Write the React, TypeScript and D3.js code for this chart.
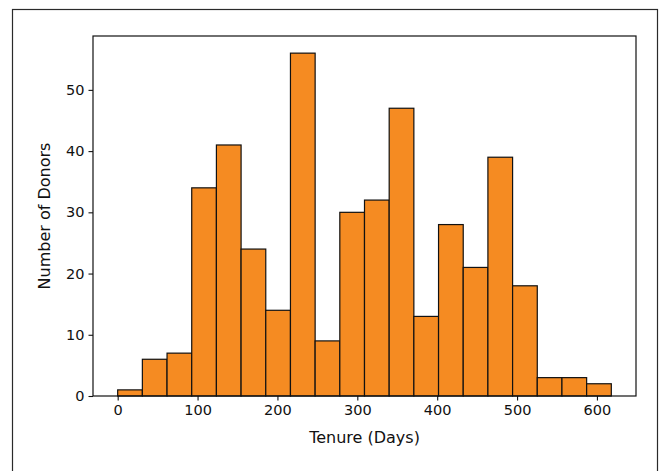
import React, { useEffect, useRef } from 'react'
import * as d3 from 'd3'

// histogram of donor tenure, 20 bins from 0 to ~618 days
const binStart = 0
const binEnd = 618
const counts = [1, 6, 7, 34, 41, 24, 14, 56, 9, 30, 32, 47, 13, 28, 21, 39, 18, 3, 3, 2]
const xTicks = [0, 100, 200, 300, 400, 500, 600]
const yTicks = [0, 10, 20, 30, 40, 50]
const xLabel = 'Tenure (Days)'
const yLabel = 'Number of Donors'

const App = () => {
    const ref = useRef<SVGSVGElement>(null)

    useEffect(() => {
        document.body.style.margin = '0'
        const width = 659
        const height = 471
        const svg = d3.select(ref.current)
        svg.selectAll('*').remove()

        const margins = { top: 36, right: 23, bottom: 75, left: 93 }
        const binW = (binEnd - binStart) / counts.length
        const pad = (binEnd - binStart) * 0.05
        const yMax = d3.max(counts)! * 1.05

        const x = d3.scaleLinear().domain([binStart - pad, binEnd + pad]).range([margins.left, width - margins.right])
        const y = d3.scaleLinear().domain([0, yMax]).range([height - margins.bottom, margins.top])

        // outer frame of the figure
        svg.append('rect')
            .attr('x', 12.5).attr('y', 9.5)
            .attr('width', 645).attr('height', 500)
            .attr('fill', 'white').attr('stroke', '#2a2a2a').attr('stroke-width', 1.2)

        const bins = counts.map((c, i) => ({ x0: binStart + i * binW, x1: binStart + (i + 1) * binW, c }))

        svg.append('g').selectAll('rect').data(bins)
            .join('rect')
            .attr('x', d => x(d.x0))
            .attr('y', d => y(d.c))
            .attr('width', d => x(d.x1) - x(d.x0))
            .attr('height', d => y(0) - y(d.c))
            .attr('fill', '#f58b22')
            .attr('stroke', '#111')
            .attr('stroke-width', 1.2)

        const font = 'DejaVu Sans, sans-serif'

        const gx = svg.append('g')
            .attr('transform', `translate(0,${height - margins.bottom})`)
            .call(d3.axisBottom(x).tickValues(xTicks).tickSize(4.5).tickPadding(4).tickFormat(d3.format('d')))
        const gy = svg.append('g')
            .attr('transform', `translate(${margins.left},0)`)
            .call(d3.axisLeft(y).tickValues(yTicks).tickSize(4.5).tickPadding(4).tickFormat(d3.format('d')))
        for (const g of [gx, gy]) {
            g.select('.domain').remove()
            g.selectAll('text').attr('font-family', font).attr('font-size', 14.5).attr('fill', '#111')
            g.selectAll('line').attr('stroke', '#111').attr('stroke-width', 1.1)
        }

        // axes box
        svg.append('rect')
            .attr('x', margins.left).attr('y', margins.top)
            .attr('width', width - margins.left - margins.right)
            .attr('height', height - margins.top - margins.bottom)
            .attr('fill', 'none').attr('stroke', '#111').attr('stroke-width', 1.2)

        svg.append('text')
            .attr('x', (margins.left + width - margins.right) / 2)
            .attr('y', 443)
            .attr('text-anchor', 'middle')
            .attr('font-family', font).attr('font-size', 16).attr('fill', '#111')
            .text(xLabel)

        svg.append('text')
            .attr('transform', `translate(50,${(margins.top + height - margins.bottom) / 2}) rotate(-90)`)
            .attr('text-anchor', 'middle')
            .attr('font-family', font).attr('font-size', 16).attr('fill', '#111')
            .text(yLabel)
    }, [])

    return <svg ref={ref} width={659} height={471} style={{ display: 'block' }} />
}

export default App
